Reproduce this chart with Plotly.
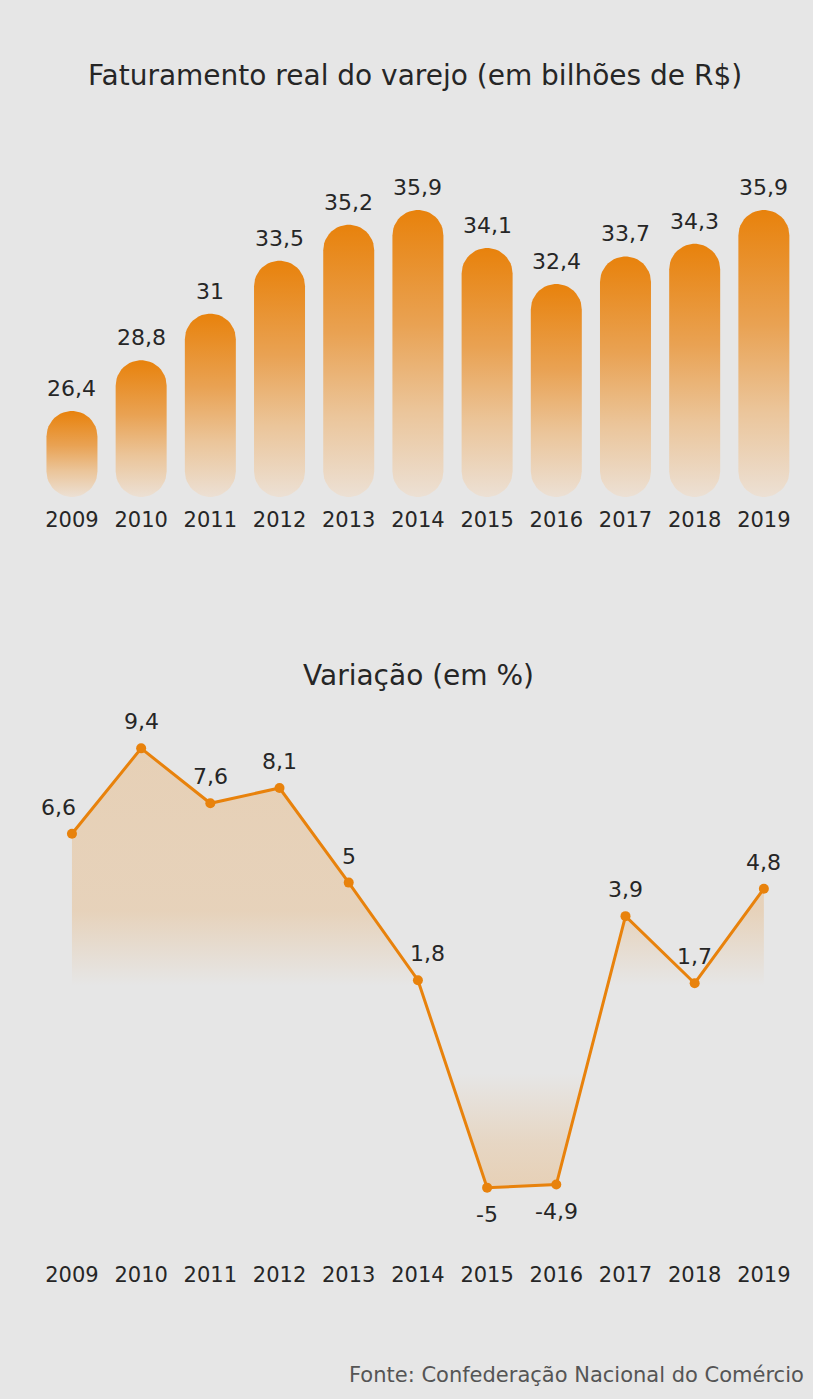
"""
Faturamento real do varejo e variação anual, recriado com Plotly.
"""

import numpy as np
import plotly.graph_objects as go

years = [2009, 2010, 2011, 2012, 2013, 2014, 2015, 2016, 2017, 2018, 2019]
revenue = [26.4, 28.8, 31, 33.5, 35.2, 35.9, 34.1, 32.4, 33.7, 34.3, 35.9]
variation = [6.6, 9.4, 7.6, 8.1, 5, 1.8, -5, -4.9, 3.9, 1.7, 4.8]
year_labels = [str(y) for y in years]

bg = '#e6e6e6'
orange = '#e8820c'
text_color = '#262626'
font_family = 'DejaVu Sans'

fig_w, fig_h = 813, 1399
x_range = [2007.96, 2019.71]

# pixel boxes of the two plot areas (top, bottom)
top_box = (150, 505)
bot_box = (720, 1252)
top_range = [21.96, 38.73]
bot_range = [-7.11, 10.33]
bar_base = 22.34
bar_px_width = 51


def fmt(v):
    return f'{v:g}'.replace('.', ',')


def domain(box):
    return [(fig_h - box[1]) / fig_h, (fig_h - box[0]) / fig_h]


px_per_x = fig_w / (x_range[1] - x_range[0])
px_per_y = (top_box[1] - top_box[0]) / (top_range[1] - top_range[0])
half_w = bar_px_width / 2 / px_per_x
radius_y = bar_px_width / 2 / px_per_y


def capsule(xc, top, base):
    t_top = np.linspace(0, np.pi, 24)
    t_bot = np.linspace(np.pi, 2 * np.pi, 24)
    xs = np.concatenate([xc + half_w * np.cos(t_top),
                         xc + half_w * np.cos(t_bot)])
    ys = np.concatenate([top - radius_y + radius_y * np.sin(t_top),
                         base + radius_y + radius_y * np.sin(t_bot)])
    return np.append(xs, xs[0]), np.append(ys, ys[0])


fig = go.Figure()

for yr, val in zip(years, revenue):
    xs, ys = capsule(yr, val, bar_base)
    fig.add_trace(go.Scatter(
        x=xs, y=ys, mode='lines', fill='toself',
        line={'width': 0, 'color': 'rgba(0,0,0,0)'},
        fillgradient={
            'type': 'vertical',
            'colorscale': [[0, '#ece0d4'], [0.3, '#ebc59a'],
                           [0.6, '#e9a253'], [1, orange]],
        },
        hoverinfo='skip', showlegend=False,
        xaxis='x', yaxis='y'
    ))

# area under the variation line
fig.add_trace(go.Scatter(
    x=years, y=variation, mode='none', fill='tozeroy',
    fillgradient={
        'type': 'vertical',
        'start': min(variation), 'stop': max(variation),
        'colorscale': [[0, 'rgba(232,130,12,0.22)'],
                       [0.1, 'rgba(232,130,12,0.16)'],
                       [0.26, 'rgba(232,130,12,0)'],
                       [0.46, 'rgba(232,130,12,0)'],
                       [0.63, 'rgba(232,130,12,0.2)'],
                       [1, 'rgba(232,130,12,0.22)']],
    },
    hoverinfo='skip', showlegend=False,
    xaxis='x2', yaxis='y2'
))

fig.add_trace(go.Scatter(
    x=years, y=variation, mode='lines+markers',
    line={'color': orange, 'width': 3},
    marker={'color': orange, 'size': 10},
    hoverinfo='skip', showlegend=False,
    xaxis='x2', yaxis='y2'
))

annotations = []
for yr, val in zip(years, revenue):
    annotations.append(dict(
        x=yr, y=val, xref='x', yref='y', text=fmt(val), showarrow=False,
        yanchor='bottom', yshift=8,
        font={'size': 22, 'color': text_color}
    ))
for i, (yr, val) in enumerate(zip(years, variation)):
    # nudge the labels that would sit on the line
    dx = -13 if i == 0 else (10 if i == 5 else 0)
    annotations.append(dict(
        x=yr, y=val, xref='x2', yref='y2', text=fmt(val), showarrow=False,
        yanchor='top' if val < 0 else 'bottom',
        yshift=-12 if val < 0 else 12, xshift=dx,
        font={'size': 22, 'color': text_color}
    ))

annotations += [
    dict(x=0.51, y=1 - 75 / fig_h, xref='paper', yref='paper',
         text='Faturamento real do varejo (em bilhões de R$)',
         showarrow=False, xanchor='center', yanchor='middle',
         font={'size': 28, 'color': text_color}),
    dict(x=0.515, y=1 - 675 / fig_h, xref='paper', yref='paper',
         text='Variação (em %)', showarrow=False,
         xanchor='center', yanchor='middle',
         font={'size': 28, 'color': text_color}),
    dict(x=806 / fig_w, y=1 - 1375 / fig_h, xref='paper', yref='paper',
         text='Fonte: Confederação Nacional do Comércio', showarrow=False,
         xanchor='right', yanchor='middle',
         font={'size': 21, 'color': '#555555'}),
]

axis_x = dict(range=x_range, tickvals=years, ticktext=year_labels,
              showgrid=False, zeroline=False, showline=False, ticks='',
              tickfont={'size': 21, 'color': text_color}, fixedrange=True)
axis_y = dict(showgrid=False, zeroline=False, showline=False,
              showticklabels=False, ticks='', fixedrange=True)

fig.update_layout(
    width=fig_w, height=fig_h,
    margin={'l': 0, 'r': 0, 't': 0, 'b': 0},
    paper_bgcolor=bg, plot_bgcolor=bg,
    font={'family': font_family, 'color': text_color},
    xaxis={**axis_x, 'anchor': 'y'},
    yaxis={**axis_y, 'range': top_range, 'domain': domain(top_box),
           'anchor': 'x'},
    xaxis2={**axis_x, 'anchor': 'y2', 'ticklabelstandoff': 8},
    yaxis2={**axis_y, 'range': bot_range, 'domain': domain(bot_box),
            'anchor': 'x2'},
    annotations=annotations,
)

fig.write_html(
    'out.html',
    config={'displayModeBar': False},
    post_script="document.body.style.margin='0';"
                "document.body.style.overflow='hidden';"
)
